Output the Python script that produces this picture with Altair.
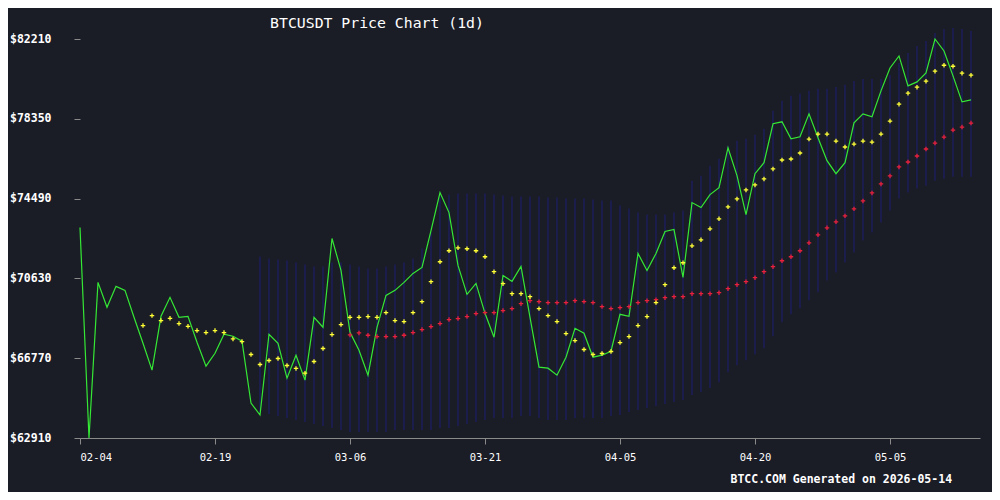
import altair as alt
import pandas as pd

start_date = "2026-02-04"
n_days = 100
close = [73090, 62910, 70437, 69231, 70244, 70051, 68748, 67494, 66191, 68797,
         69713, 68748, 68797, 67542, 66384, 67011, 67928, 67832, 67590, 64599,
         64020, 67928, 67494, 65805, 66915, 65708, 68748, 68266, 72560, 71016,
         68025, 67156, 65950, 68266, 69810, 70051, 70437, 70871, 71161, 72946,
         74780, 73815, 71257, 69858, 70389, 68941, 67783, 70775, 70485, 71209,
         68748, 66336, 66288, 65950, 66818, 68218, 67976, 66818, 66915, 67108,
         68893, 68797, 71836, 71016, 71836, 72898, 72994, 70678, 74297, 74056,
         74683, 75021, 76951, 75600, 73718, 75696, 76227, 78109, 78205, 77385,
         77481, 78591, 77433, 76323, 75696, 76227, 78157, 78591, 78446, 79701,
         80811, 81390, 79942, 80135, 80569, 82210, 81631, 80425, 79170, 79267]

ma7_start = 7
ma7 = [68348, 68830, 68589, 68700, 68444, 68314, 68107, 68010, 68107, 68010,
       67701, 67576, 66949, 66466, 66659, 66756, 66418, 66273, 66046, 66611,
       67238, 67914, 68396, 68748, 68748, 68782, 68748, 68975, 68589, 68541,
       68975, 69506, 70471, 71436, 71967, 72111, 72063, 71967, 71677, 70953,
       70374, 69892, 69892, 69747, 69168, 68830, 68541, 67962, 67624, 67190,
       66949, 66997, 67093, 67528, 67817, 68348, 68782, 69458, 70326, 71146,
       71388, 72208, 72497, 73028, 73511, 74090, 74476, 74910, 75151, 75441,
       75923, 76357, 76406, 76695, 77371, 77612, 77612, 77274, 76985, 77129,
       77274, 77226, 77612, 78239, 79059, 79590, 79880, 80169, 80652, 80941,
       80893, 80555, 80459]

ma30_start = 30
ma30 = [67894, 67991, 67880, 67817, 67817, 67817, 67880, 68010, 68155, 68300,
        68444, 68637, 68686, 68782, 68927, 68975, 68975, 69072, 69168, 69409,
        69554, 69506, 69458, 69458, 69458, 69554, 69506, 69458, 69265, 69168,
        69216, 69265, 69458, 69554, 69602, 69699, 69747, 69747, 69892, 69892,
        69892, 69940, 70133, 70326, 70471, 70664, 70953, 71195, 71484, 71677,
        71967, 72353, 72739, 73076, 73366, 73655, 73993, 74379, 74765, 75199,
        75585, 76020, 76261, 76550, 76888, 77178, 77467, 77805, 77950, 78143]

bb_start = 20
bb_upper = [71692, 71595, 71547, 71499, 71402, 71306, 71209, 71209, 71402, 71402,
            71306, 71209, 71113, 71113, 71209, 71306, 71402, 71595, 72078, 72850,
            74587, 74683, 74731, 74731, 74731, 74731, 74683, 74635, 74587, 74587,
            74587, 74587, 74538, 74538, 74490, 74490, 74490, 74442, 74394, 74394,
            74152, 74008, 73815, 73718, 73718, 73718, 73815, 73911, 75359, 75600,
            76082, 76420, 77047, 77289, 77385, 77578, 77868, 78736, 79219, 79460,
            79556, 79701, 79798, 79798, 79894, 79991, 80184, 80280, 80280, 80280,
            80473, 81052, 81535, 81872, 82114, 82500, 82693, 82741, 82693, 82596]
bb_lower = [64165, 64068, 63972, 63875, 63779, 63682, 63586, 63489, 63393, 63296,
            63200, 63200, 63200, 63200, 63200, 63296, 63296, 63296, 63296, 63296,
            63393, 63393, 63489, 63586, 63682, 63779, 63875, 63875, 63875, 63972,
            63972, 63875, 63779, 63779, 63779, 63875, 63875, 63875, 63875, 63972,
            64020, 64165, 64261, 64358, 64454, 64551, 64647, 64744, 64985, 65130,
            65323, 65612, 66095, 66432, 66674, 66963, 67253, 67832, 68507, 68893,
            69183, 69569, 69955, 70534, 70920, 71402, 71885, 72464, 72850, 73332,
            73911, 74490, 74780, 74973, 75117, 75359, 75455, 75552, 75552, 75552]

y_ticks = [62910, 66770, 70630, 74490, 78350, 82210]
x_tick_dates = [(2, 4), (2, 19), (3, 6), (3, 21), (4, 5), (4, 20), (5, 5)]
title_text = "BTCUSDT Price Chart (1d)"
footer_text = "BTCC.COM Generated on 2026-05-14"

dates = pd.date_range(start_date, periods=n_days, freq="D").strftime("%Y-%m-%d").tolist()
df_close = pd.DataFrame({"date": dates, "price": close})
df_ma7 = pd.DataFrame({"date": dates[ma7_start:], "value": ma7})
df_ma30 = pd.DataFrame({"date": dates[ma30_start:], "value": ma30})
df_bb = pd.DataFrame({"date": dates[bb_start:], "upper": bb_upper, "lower": bb_lower})
df_title = pd.DataFrame({"t": [title_text]})

MONO = "DejaVu Sans Mono"
BG = "#1a1c26"

x_scale = alt.Scale(type="utc",
                    domain=[alt.DateTime(year=2026, month=2, date=4, utc=True),
                            alt.DateTime(year=2026, month=5, date=15, utc=True)])
y_scale = alt.Scale(domain=[y_ticks[0], y_ticks[-1]], nice=False, zero=False)

x_axis = alt.Axis(values=[alt.DateTime(year=2026, month=m, date=d, utc=True) for m, d in x_tick_dates],
                  format="%m-%d", grid=False, domainColor="#8a8a8a", tickColor="#8a8a8a",
                  tickSize=6, labelFont=MONO, labelFontSize=10.5, labelColor="#ffffff",
                  labelPadding=8, title=footer_text, titleFont=MONO, titleFontSize=11.5,
                  titleFontWeight="bold", titleColor="#ffffff", titleX=650, titleY=44,
                  titleAlign="left", titleBaseline="alphabetic", titleAnchor="start")
y_axis = alt.Axis(values=y_ticks, labelExpr="'$' + datum.value", grid=False, domain=False,
                  tickColor="#8a8a8a", tickSize=6, labelFont=MONO, labelFontSize=11.5,
                  labelFontWeight="bold", labelColor="#ffffff", labelPadding=23, title=None)

bands = alt.Chart(df_bb).mark_rule(color="#1e1f6c", strokeWidth=1.1).encode(
    x=alt.X("date:T", scale=x_scale, axis=x_axis),
    y=alt.Y("lower:Q", scale=y_scale, axis=y_axis),
    y2="upper:Q",
)

cross = "M-1,0H1M0,-1V1"
ma30_pts = alt.Chart(df_ma30).mark_point(shape=cross, size=20, filled=False,
                                         color="#e8203a", strokeWidth=1.3, opacity=1).encode(
    x=alt.X("date:T", scale=x_scale, axis=x_axis),
    y=alt.Y("value:Q", scale=y_scale, axis=y_axis),
)
ma7_pts = alt.Chart(df_ma7).mark_point(shape=cross, size=20, filled=False,
                                       color="#ffff33", strokeWidth=1.3, opacity=1).encode(
    x=alt.X("date:T", scale=x_scale, axis=x_axis),
    y=alt.Y("value:Q", scale=y_scale, axis=y_axis),
)
line = alt.Chart(df_close).mark_line(color="#35e835", strokeWidth=1.2).encode(
    x=alt.X("date:T", scale=x_scale, axis=x_axis),
    y=alt.Y("price:Q", scale=y_scale, axis=y_axis),
)
title = alt.Chart(df_title).mark_text(font=MONO, fontSize=14.8, color="#ffffff",
                                      align="center", baseline="alphabetic").encode(
    text="t:N", x=alt.value(297), y=alt.value(-11),
)

chart = alt.layer(bands, line, ma30_pts, ma7_pts, title).properties(
    width=900, height=399,
    autosize=alt.AutoSizeParams(type="none"),
    padding={"left": 72, "top": 31, "right": 12, "bottom": 54},
    background=BG,
).configure_view(stroke=None)

chart.save("out.html", embed_options={"renderer": "svg", "actions": False})
